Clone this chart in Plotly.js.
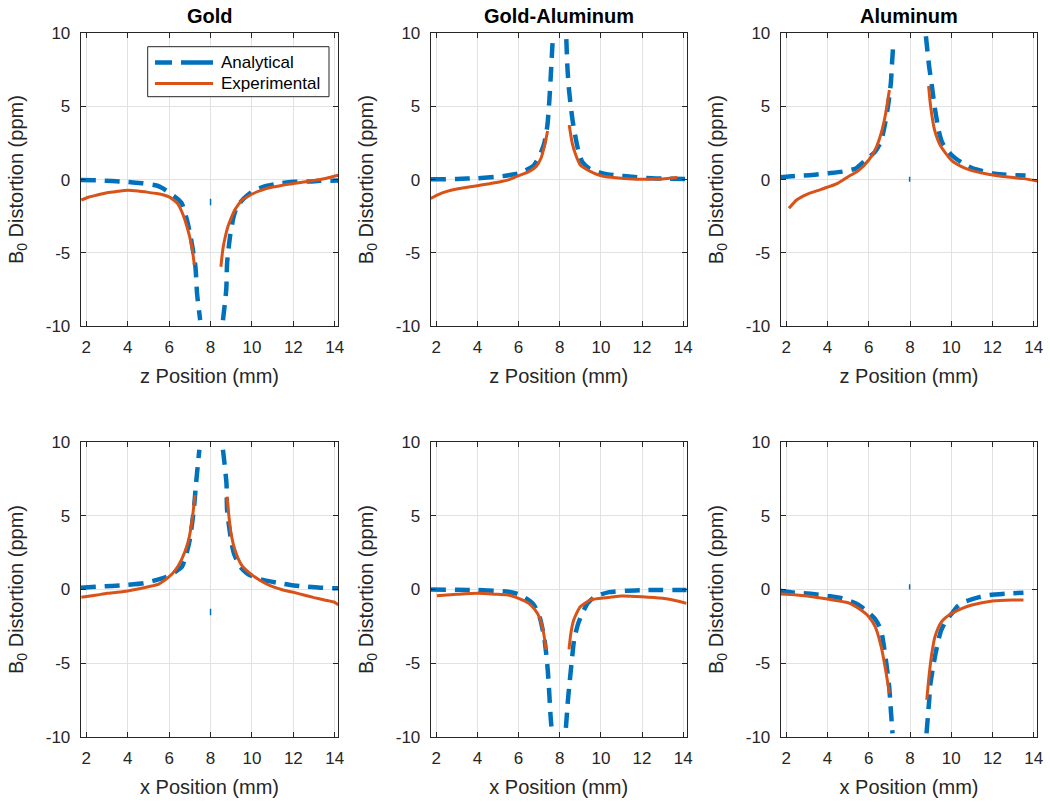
<!DOCTYPE html>
<html>
<head>
<meta charset="utf-8">
<script src="https://cdn.plot.ly/plotly-3.0.1.min.js"></script>
<style>html,body{margin:0;padding:0;background:#fff;}#chart{width:1050px;height:803px;}</style>
</head>
<body>
<div id="chart"></div>
<script>
// ---------- tick labels / titles ----------
const xTickVals = [2, 4, 6, 8, 10, 12, 14];
const xTickText = ["2", "4", "6", "8", "10", "12", "14"];
const yTickVals = [-10, -5, 0, 5, 10];
const yTickText = ["-10", "-5", "0", "5", "10"];
const panelTitles = ["Gold", "Gold-Aluminum", "Aluminum"];
const xTitles = ["z Position (mm)", "x Position (mm)"];
const yTitle = "B<sub>0</sub> Distortion (ppm)";
const seriesNames = ["Analytical", "Experimental"];

// ---------- Panel 1: Gold, z ----------
const goldZ_ana_x = [1.73, 2.5, 3.25, 4.0, 4.7, 5.4, 5.7, 6.0, 6.3, 6.6, 6.86, 7.05, 7.27, 7.35, 7.5, 8.0, 8.6, 8.76, 8.8, 8.95, 9.12, 9.28, 9.6, 10.08, 10.57, 11.37, 12.0, 12.8, 13.3, 14.17];
const goldZ_ana_y = [-0.03, -0.05, -0.1, -0.15, -0.25, -0.4, -0.6, -0.9, -1.2, -1.6, -2.75, -4.0, -5.95, -7.8, -9.6, null, -9.6, -7.5, -5.7, -3.8, -2.5, -1.85, -1.3, -0.75, -0.48, -0.25, -0.15, -0.12, -0.08, -0.06];
const goldZ_ctr_x = [8.0, 8.0];
const goldZ_ctr_y = [-1.3, -1.75];
const goldZ_exp_x = [1.76, 2.1, 2.52, 3.0, 3.5, 4.0, 4.5, 5.0, 5.4, 5.74, 6.0, 6.22, 6.4, 6.54, 6.7, 6.86, 7.0, 7.1, 7.22, 8.0, 8.5, 8.6, 8.72, 8.84, 9.0, 9.13, 9.3, 9.53, 9.8, 10.09, 10.4, 10.74, 11.1, 11.54, 12.0, 12.35, 12.8, 13.15, 13.6, 14.17];
const goldZ_exp_y = [-1.39, -1.2, -1.05, -0.89, -0.8, -0.73, -0.78, -0.87, -0.95, -1.05, -1.18, -1.39, -1.62, -1.96, -2.5, -3.2, -3.95, -4.58, -5.83, null, -5.95, -4.7, -3.85, -3.2, -2.6, -2.19, -1.8, -1.39, -1.15, -0.93, -0.75, -0.59, -0.48, -0.36, -0.27, -0.2, -0.1, -0.02, 0.1, 0.3];

// ---------- Panel 2: Gold-Aluminum, z ----------
const gaZ_ana_x = [1.73, 3.0, 4.0, 5.0, 5.5, 6.0, 6.68, 6.85, 7.1, 7.25, 7.4, 7.5, 7.58, 7.66, 8.0, 8.32, 8.38, 8.46, 8.6, 8.7, 8.9, 9.1, 9.43, 10.08, 10.7, 11.5, 12.2, 13.0, 14.17];
const gaZ_ana_y = [0.02, 0.05, 0.1, 0.2, 0.3, 0.43, 0.89, 1.2, 1.9, 2.5, 3.7, 5.5, 7.5, 9.6, null, 9.6, 7.5, 6.0, 4.3, 3.4, 2.0, 1.2, 0.77, 0.43, 0.3, 0.2, 0.12, 0.08, 0.05];
const gaZ_ctr_x = [];
const gaZ_ctr_y = [];
const gaZ_exp_x = [1.73, 2.1, 2.48, 3.0, 3.5, 4.0, 4.5, 5.0, 5.5, 6.0, 6.5, 6.85, 7.09, 7.25, 7.41, 8.0, 8.46, 8.61, 8.78, 9.0, 9.25, 9.51, 10.0, 10.5, 11.0, 11.5, 12.0, 12.5, 13.0, 13.71];
const gaZ_exp_y = [-1.28, -1.02, -0.82, -0.64, -0.52, -0.41, -0.3, -0.18, -0.02, 0.27, 0.55, 0.89, 1.46, 2.25, 3.33, null, 3.74, 2.48, 1.69, 1.0, 0.75, 0.55, 0.27, 0.16, 0.09, 0.05, 0.02, 0.04, 0.05, 0.14];

// ---------- Panel 3: Aluminum, z ----------
const alZ_ana_x = [1.69, 2.45, 3.26, 4.0, 4.72, 5.37, 5.94, 6.3, 6.59, 6.8, 6.95, 7.07, 7.12, 7.17, 8.0, 8.77, 8.93, 9.05, 9.2, 9.42, 9.58, 10.0, 10.55, 11.04, 12.0, 12.5, 13.6];
const alZ_ana_y = [0.16, 0.25, 0.32, 0.43, 0.55, 0.77, 1.46, 1.9, 2.6, 3.9, 5.2, 6.6, 7.8, 8.9, null, 9.8, 7.7, 6.5, 4.9, 3.17, 2.48, 1.7, 1.12, 0.77, 0.43, 0.35, 0.28];
const alZ_ctr_x = [7.98, 7.98];
const alZ_ctr_y = [0.2, -0.15];
const alZ_exp_x = [2.13, 2.5, 3.0, 3.51, 3.99, 4.49, 5.0, 5.5, 6.0, 6.31, 6.6, 6.79, 7.0, 8.0, 8.9, 9.0, 9.19, 9.5, 10.0, 10.5, 11.0, 11.5, 12.0, 12.5, 13.0, 13.5, 14.17];
const alZ_exp_y = [-1.96, -1.39, -1.0, -0.75, -0.52, -0.25, 0.2, 0.62, 1.34, 2.03, 3.17, 4.31, 6.13, null, 6.4, 4.99, 3.39, 2.26, 1.34, 0.89, 0.62, 0.45, 0.32, 0.22, 0.14, 0.07, -0.09];

// ---------- Panel 4: Gold, x ----------
const goldX_ana_x = [1.73, 2.5, 3.24, 3.97, 4.77, 5.41, 5.98, 6.3, 6.62, 6.8, 7.0, 7.19, 7.3, 7.46, 8.0, 8.6, 8.77, 8.8, 8.99, 9.12, 9.4, 9.76, 10.24, 11.2, 11.86, 12.66, 13.3, 14.17];
const goldX_ana_y = [0.12, 0.19, 0.24, 0.31, 0.42, 0.65, 0.92, 1.2, 1.55, 2.23, 3.4, 5.4, 7.2, 9.5, null, 9.5, 7.2, 5.4, 3.36, 2.5, 1.6, 1.1, 0.76, 0.46, 0.31, 0.19, 0.12, 0.08];
const goldX_ctr_x = [8.0, 8.0];
const goldX_ctr_y = [-1.3, -1.75];
const goldX_exp_x = [1.76, 2.52, 3.0, 3.48, 4.0, 4.5, 5.0, 5.5, 6.0, 6.3, 6.59, 6.9, 7.09, 7.25, 8.0, 8.8, 8.89, 8.99, 9.18, 9.5, 10.0, 10.5, 11.0, 11.5, 12.0, 12.5, 13.0, 13.5, 14.0, 14.17];
const goldX_exp_y = [-0.53, -0.37, -0.26, -0.19, -0.1, 0.03, 0.19, 0.37, 0.87, 1.32, 2.0, 3.14, 4.5, 6.42, null, 6.31, 4.95, 3.82, 2.68, 1.66, 0.99, 0.53, 0.19, -0.03, -0.19, -0.37, -0.55, -0.71, -0.87, -1.05];

// ---------- Panel 5: Gold-Aluminum, x ----------
const gaX_ana_x = [1.73, 3.0, 4.0, 5.0, 5.5, 5.96, 6.3, 6.68, 6.85, 7.05, 7.25, 7.33, 7.42, 7.49, 7.55, 7.6, 8.0, 8.3, 8.4, 8.46, 8.59, 8.7, 8.9, 9.1, 9.35, 9.7, 10.4, 11.2, 12.0, 14.17];
const gaX_ana_y = [0.0, -0.02, -0.04, -0.1, -0.15, -0.3, -0.55, -0.94, -1.3, -2.0, -3.3, -4.2, -5.5, -7.0, -8.5, -9.4, null, -9.4, -7.5, -6.6, -4.8, -3.4, -2.3, -1.62, -0.94, -0.5, -0.18, -0.08, -0.04, -0.03];
const gaX_ctr_x = [];
const gaX_ctr_y = [];
const gaX_exp_x = [2.03, 3.0, 4.0, 5.0, 5.5, 6.0, 6.5, 6.8, 7.0, 7.19, 7.34, 8.0, 8.45, 8.54, 8.68, 9.0, 9.5, 10.0, 11.0, 12.0, 13.0, 13.5, 14.16];
const gaX_exp_y = [-0.42, -0.33, -0.26, -0.33, -0.37, -0.6, -0.94, -1.39, -1.85, -2.75, -4.1, null, -4.07, -2.98, -2.07, -1.17, -0.71, -0.6, -0.44, -0.49, -0.6, -0.71, -0.94];

// ---------- Panel 6: Aluminum, x ----------
const alX_ana_x = [1.69, 2.45, 3.26, 4.0, 4.72, 5.45, 5.94, 6.3, 6.59, 6.8, 6.99, 7.05, 7.15, 8.0, 8.8, 8.93, 8.97, 9.15, 9.34, 9.5, 9.75, 10.07, 10.3, 10.55, 11.36, 11.85, 12.82, 13.5];
const alX_ana_y = [-0.08, -0.22, -0.3, -0.44, -0.6, -1.0, -1.5, -2.0, -2.75, -4.5, -6.6, -7.8, -9.77, null, -9.77, -7.5, -6.6, -5.0, -3.66, -2.8, -2.1, -1.55, -1.15, -0.88, -0.52, -0.38, -0.27, -0.22];
const alX_ctr_x = [7.98, 7.98];
const alX_ctr_y = [0.35, 0.0];
const alX_exp_x = [1.69, 2.5, 3.0, 3.99, 5.0, 5.5, 6.0, 6.31, 6.6, 6.79, 7.0, 8.0, 8.81, 8.9, 9.0, 9.1, 9.2, 9.35, 9.5, 9.75, 10.0, 10.5, 11.0, 12.0, 13.0, 13.5];
const alX_exp_y = [-0.31, -0.37, -0.44, -0.65, -0.9, -1.28, -1.85, -2.53, -3.88, -5.24, -7.06, null, -7.5, -6.15, -4.9, -3.95, -3.25, -2.65, -2.25, -1.88, -1.65, -1.3, -1.05, -0.78, -0.71, -0.71];

// ---------- build ----------
const W = 1050, H = 803;
const colPx = [[80.7, 338.3], [430.7, 686.7], [780.7, 1037.3]];
const rowPx = [[33.3, 326.0], [442.3, 736.7]];
const FONT = '"Liberation Sans", Arial, Helvetica, sans-serif';
const BLUE = '#0072BD', ORANGE = '#D95319', AX = '#262626';
const BLUE_DASH = '15px,9px';

const panels = [
  {ax: goldZ_ana_x, ay: goldZ_ana_y, cx: goldZ_ctr_x, cy: goldZ_ctr_y, ex: goldZ_exp_x, ey: goldZ_exp_y, r: 0, c: 0},
  {ax: gaZ_ana_x, ay: gaZ_ana_y, cx: gaZ_ctr_x, cy: gaZ_ctr_y, ex: gaZ_exp_x, ey: gaZ_exp_y, r: 0, c: 1},
  {ax: alZ_ana_x, ay: alZ_ana_y, cx: alZ_ctr_x, cy: alZ_ctr_y, ex: alZ_exp_x, ey: alZ_exp_y, r: 0, c: 2},
  {ax: goldX_ana_x, ay: goldX_ana_y, cx: goldX_ctr_x, cy: goldX_ctr_y, ex: goldX_exp_x, ey: goldX_exp_y, r: 1, c: 0},
  {ax: gaX_ana_x, ay: gaX_ana_y, cx: gaX_ctr_x, cy: gaX_ctr_y, ex: gaX_exp_x, ey: gaX_exp_y, r: 1, c: 1},
  {ax: alX_ana_x, ay: alX_ana_y, cx: alX_ctr_x, cy: alX_ctr_y, ex: alX_exp_x, ey: alX_exp_y, r: 1, c: 2}
];

const data = [];
const px = v => v / W, py = v => 1 - v / H;
const layout = {
  width: W, height: H,
  margin: {l: 0, r: 0, t: 0, b: 0},
  paper_bgcolor: '#fff', plot_bgcolor: '#fff',
  font: {family: FONT, color: AX, size: 17},
  showlegend: false,
  annotations: [],
  shapes: [],
  hovermode: false
};
const axRef = i => (i === 0 ? '' : String(i + 1));

panels.forEach((p, i) => {
  data.push({
    x: p.ax, y: p.ay, xaxis: 'x' + axRef(i), yaxis: 'y' + axRef(i), type: 'scatter', mode: 'lines',
    name: seriesNames[0], connectgaps: false,
    line: {color: BLUE, width: 4.5, dash: BLUE_DASH, shape: 'spline', smoothing: 0.6}
  });
  if (p.cx.length) {
    data.push({
      x: p.cx, y: p.cy, xaxis: 'x' + axRef(i), yaxis: 'y' + axRef(i), type: 'scatter', mode: 'lines',
      name: seriesNames[0], line: {color: BLUE, width: 1.5}
    });
  }
});
panels.forEach((p, i) => {
  data.push({
    x: p.ex, y: p.ey, xaxis: 'x' + axRef(i), yaxis: 'y' + axRef(i), type: 'scatter', mode: 'lines',
    name: seriesNames[1], connectgaps: false,
    line: {color: ORANGE, width: 3, shape: 'spline', smoothing: 0.6}
  });
});

panels.forEach((p, i) => {
  const cx = colPx[p.c], ry = rowPx[p.r];
  const xk = 'xaxis' + axRef(i), yk = 'yaxis' + axRef(i);
  layout[xk] = {
    domain: [cx[0] / W, cx[1] / W], anchor: 'y' + axRef(i),
    range: [1.73, 14.17], tickmode: 'array', tickvals: xTickVals, ticktext: xTickText,
    ticks: 'inside', ticklen: 5, tickwidth: 1, tickcolor: AX,
    showline: true, linecolor: AX, linewidth: 1, mirror: 'ticks',
    showgrid: true, gridcolor: '#e2e2e2', gridwidth: 1, zeroline: false,
    tickfont: {family: FONT, size: 17, color: AX}, ticklabelstandoff: 6,
    title: {text: xTitles[p.r], font: {family: FONT, size: 20, color: AX}, standoff: 12},
    automargin: false, fixedrange: true
  };
  layout[yk] = {
    domain: [1 - ry[1] / H, 1 - ry[0] / H], anchor: 'x' + axRef(i),
    range: [-10, 10], tickmode: 'array', tickvals: yTickVals, ticktext: yTickText,
    ticks: 'inside', ticklen: 5, tickwidth: 1, tickcolor: AX,
    showline: true, linecolor: AX, linewidth: 1, mirror: 'ticks',
    showgrid: true, gridcolor: '#e2e2e2', gridwidth: 1, zeroline: false,
    tickfont: {family: FONT, size: 17, color: AX}, ticklabelstandoff: 6,
    title: {text: yTitle, font: {family: FONT, size: 20, color: AX}, standoff: 16},
    automargin: false, fixedrange: true
  };
  if (p.r === 0) {
    layout.annotations.push({
      text: '<b>' + panelTitles[p.c] + '</b>', xref: 'paper', yref: 'paper',
      x: (cx[0] + cx[1]) / 2 / W, y: 1 - ry[0] / H, xanchor: 'center', yanchor: 'bottom',
      yshift: 4, showarrow: false, font: {family: FONT, size: 20, color: '#000'}
    });
  }
});

// ---------- legend (drawn in the first panel, like the original) ----------
const legBox = [147.7, 46.7, 329.0, 96.7];
const legRows = [62.5, 83.5];
layout.shapes.push({
  type: 'rect', xref: 'paper', yref: 'paper', layer: 'above',
  x0: px(legBox[0]), x1: px(legBox[2]), y0: py(legBox[3]), y1: py(legBox[1]),
  line: {color: AX, width: 1}, fillcolor: '#fff'
});
layout.shapes.push({
  type: 'line', xref: 'paper', yref: 'paper', layer: 'above',
  x0: px(155), x1: px(213), y0: py(legRows[0]), y1: py(legRows[0]),
  line: {color: BLUE, width: 4.5, dash: '17px,9px,32px,9px'}
});
layout.shapes.push({
  type: 'line', xref: 'paper', yref: 'paper', layer: 'above',
  x0: px(155), x1: px(213), y0: py(legRows[1]), y1: py(legRows[1]),
  line: {color: ORANGE, width: 3}
});
seriesNames.forEach((s, k) => {
  layout.annotations.push({
    text: s, xref: 'paper', yref: 'paper', x: px(219), y: py(legRows[k]),
    xanchor: 'left', yanchor: 'middle', showarrow: false,
    font: {family: FONT, size: 17, color: '#000'}
  });
});

Plotly.newPlot('chart', data, layout, {staticPlot: true, displayModeBar: false});
</script>
</body>
</html>
